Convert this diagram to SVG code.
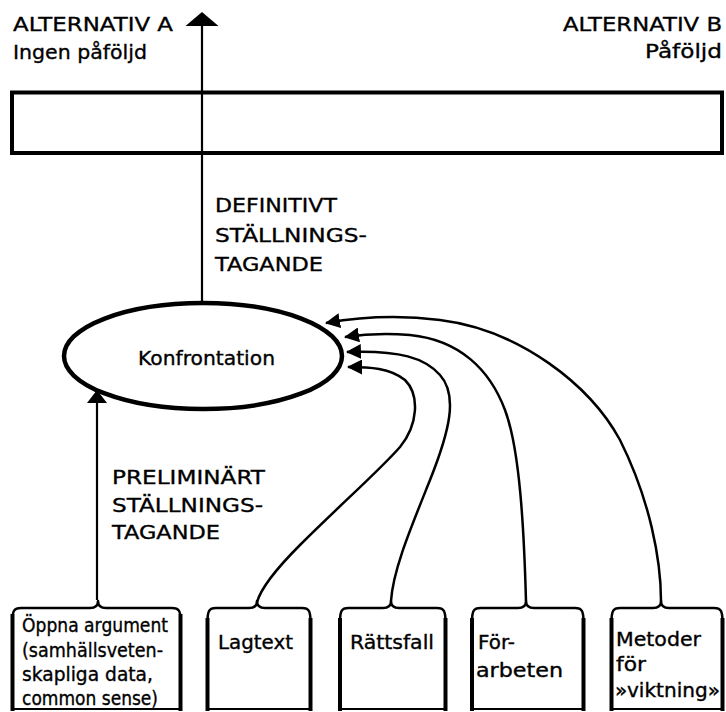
<svg xmlns="http://www.w3.org/2000/svg" width="726" height="712" viewBox="0 0 726 712">
<defs>
<style>
text{font-family:"DejaVu Sans","Liberation Sans",sans-serif;fill:#000;stroke:#000;stroke-width:0.35;}
.lbl{font-size:20px;}
.box{font-size:19px;}
.side{fill:none;stroke:#000;stroke-width:4;}
.brace{fill:none;stroke:#000;stroke-width:2.5;stroke-linejoin:round;}
.base{fill:none;stroke:#000;stroke-width:2;}
.conn{fill:none;stroke:#000;stroke-width:2.5;}
.vline{fill:none;stroke:#000;stroke-width:2.2;}
</style>
<marker id="ah" markerUnits="userSpaceOnUse" markerWidth="15" markerHeight="15" refX="14" refY="7.5" orient="auto" viewBox="0 0 15 15">
<path d="M0,0 L15,7.5 L0,15 z" fill="#000"/>
</marker>
</defs>
<rect width="726" height="712" fill="#fff"/>

<g id="alt-a">
<text class="lbl" x="13" y="31" textLength="160" lengthAdjust="spacingAndGlyphs">ALTERNATIV A</text>
<text class="lbl" x="13" y="59" textLength="134" lengthAdjust="spacingAndGlyphs">Ingen påföljd</text>
</g>
<g id="alt-b">
<text class="lbl" x="563" y="31" textLength="159" lengthAdjust="spacingAndGlyphs">ALTERNATIV B</text>
<text class="lbl" x="645" y="58" textLength="77" lengthAdjust="spacingAndGlyphs">Påföljd</text>
</g>
<g id="decision-bar">
<rect x="12" y="92.5" width="710" height="60.5" fill="none" stroke="#000" stroke-width="4"/>
</g>

<g id="konfrontation">
<ellipse cx="203" cy="356" rx="139" ry="53" fill="#fff" stroke="#000" stroke-width="4.5"/>
<text class="lbl" x="138" y="365" textLength="137" lengthAdjust="spacingAndGlyphs">Konfrontation</text>
</g>

<g id="connectors">
<line class="vline" x1="202" y1="302" x2="202" y2="24"/>
<polygon points="202,12 218.5,26 185.5,26" fill="#000"/>
<line class="vline" x1="97" y1="600" x2="97" y2="400"/>
<polygon points="97,390 107,403 87,403" fill="#000"/>
<path class="conn" marker-end="url(#ah)" d="M661,601 C661,560 650,500 620,440 C590,385 520,330 440,320 C400,315 360,317 326,323"/>
<path class="conn" marker-end="url(#ah)" d="M526,601 C524,530 520,450 505,410 C490,370 460,340 410,335 C385,333 365,334 345,337"/>
<path class="conn" marker-end="url(#ah)" d="M391,601 C393,570 410,530 430,480 C450,430 458,395 440,375 C425,358 400,350 347,352"/>
<path class="conn" marker-end="url(#ah)" d="M257,602 C262,585 280,565 300,545 C340,505 380,470 400,447 C418,425 420,395 405,380 C390,368 370,367 348,367"/>
</g>

<g id="label-definitivt">
<text class="lbl" x="215" y="212" textLength="122" lengthAdjust="spacingAndGlyphs">DEFINITIVT</text>
<text class="lbl" x="215" y="242" textLength="152" lengthAdjust="spacingAndGlyphs">STÄLLNINGS-</text>
<text class="lbl" x="215" y="271" textLength="108" lengthAdjust="spacingAndGlyphs">TAGANDE</text>
</g>
<g id="label-preliminart">
<text class="lbl" x="112" y="484" textLength="153" lengthAdjust="spacingAndGlyphs">PRELIMINÄRT</text>
<text class="lbl" x="112" y="512" textLength="151" lengthAdjust="spacingAndGlyphs">STÄLLNINGS-</text>
<text class="lbl" x="112" y="539" textLength="108" lengthAdjust="spacingAndGlyphs">TAGANDE</text>
</g>

<g id="box-oppna">
<path class="brace" d="M12.5,620 C12.5,611 14,608 21,608 L90,608 C95,608 98,606 98,601 C98,606 101,608 106,608 L172,608 C179,608 180.5,611 180.5,620"/>
<line class="side" x1="12.5" y1="614" x2="12.5" y2="711"/>
<line class="side" x1="180.5" y1="614" x2="180.5" y2="711"/>
<line class="base" x1="12.5" y1="709" x2="180.5" y2="709"/>
<text class="box" x="22" y="632" textLength="146" lengthAdjust="spacingAndGlyphs">Öppna argument</text>
<text class="box" x="22" y="657" textLength="141" lengthAdjust="spacingAndGlyphs">(samhällsveten-</text>
<text class="box" x="22" y="681" textLength="131" lengthAdjust="spacingAndGlyphs">skapliga data,</text>
<text class="box" x="22" y="705" textLength="136" lengthAdjust="spacingAndGlyphs">common sense)</text>
</g>

<g id="box-lagtext">
<path class="brace" d="M207.5,622 C207.5,611 209,608 216,608 L249,608 C254,608 257,606 257,601 C257,606 260,608 265,608 L302,608 C309,608 310.5,611 310.5,622"/>
<line class="side" x1="207.5" y1="618" x2="207.5" y2="711"/>
<line class="side" x1="310.5" y1="618" x2="310.5" y2="711"/>
<line class="base" x1="207.5" y1="709" x2="310.5" y2="709"/>
<text class="box" x="218" y="649" textLength="75" lengthAdjust="spacingAndGlyphs">Lagtext</text>
</g>

<g id="box-rattsfall">
<path class="brace" d="M340,622 C340,611 341.5,608 348.5,608 L383,608 C388,608 391,606 391,601 C391,606 394,608 399,608 L437,608 C444,608 445.5,611 445.5,622"/>
<line class="side" x1="340" y1="618" x2="340" y2="711"/>
<line class="side" x1="445.5" y1="618" x2="445.5" y2="711"/>
<line class="base" x1="340" y1="709" x2="445.5" y2="709"/>
<text class="box" x="350" y="649" textLength="84" lengthAdjust="spacingAndGlyphs">Rättsfall</text>
</g>

<g id="box-forarbeten">
<path class="brace" d="M472,622 C472,611 473.5,608 480.5,608 L518,608 C523,608 526,606 526,601 C526,606 529,608 534,608 L575,608 C582,608 583.5,611 583.5,622"/>
<line class="side" x1="472" y1="618" x2="472" y2="711"/>
<line class="side" x1="583.5" y1="618" x2="583.5" y2="711"/>
<line class="base" x1="472" y1="709" x2="583.5" y2="709"/>
<text class="box" x="478" y="649" textLength="37" lengthAdjust="spacingAndGlyphs">För-</text>
<text class="box" x="476" y="677" textLength="87" lengthAdjust="spacingAndGlyphs">arbeten</text>
</g>

<g id="box-metoder">
<path class="brace" d="M611.5,622 C611.5,611 613,608 620,608 L653,608 C658,608 661,606 661,601 C661,606 664,608 669,608 L714,608 C721,608 722.5,611 722.5,622"/>
<line class="side" x1="611.5" y1="618" x2="611.5" y2="711"/>
<line class="side" x1="722.5" y1="618" x2="722.5" y2="711"/>
<line class="base" x1="611.5" y1="709" x2="722.5" y2="709"/>
<text class="box" x="616" y="646" textLength="85" lengthAdjust="spacingAndGlyphs">Metoder</text>
<text class="box" x="616" y="671" textLength="30" lengthAdjust="spacingAndGlyphs">för</text>
<text class="box" x="615" y="697" textLength="105" lengthAdjust="spacingAndGlyphs">»viktning»</text>
</g>
</svg>
